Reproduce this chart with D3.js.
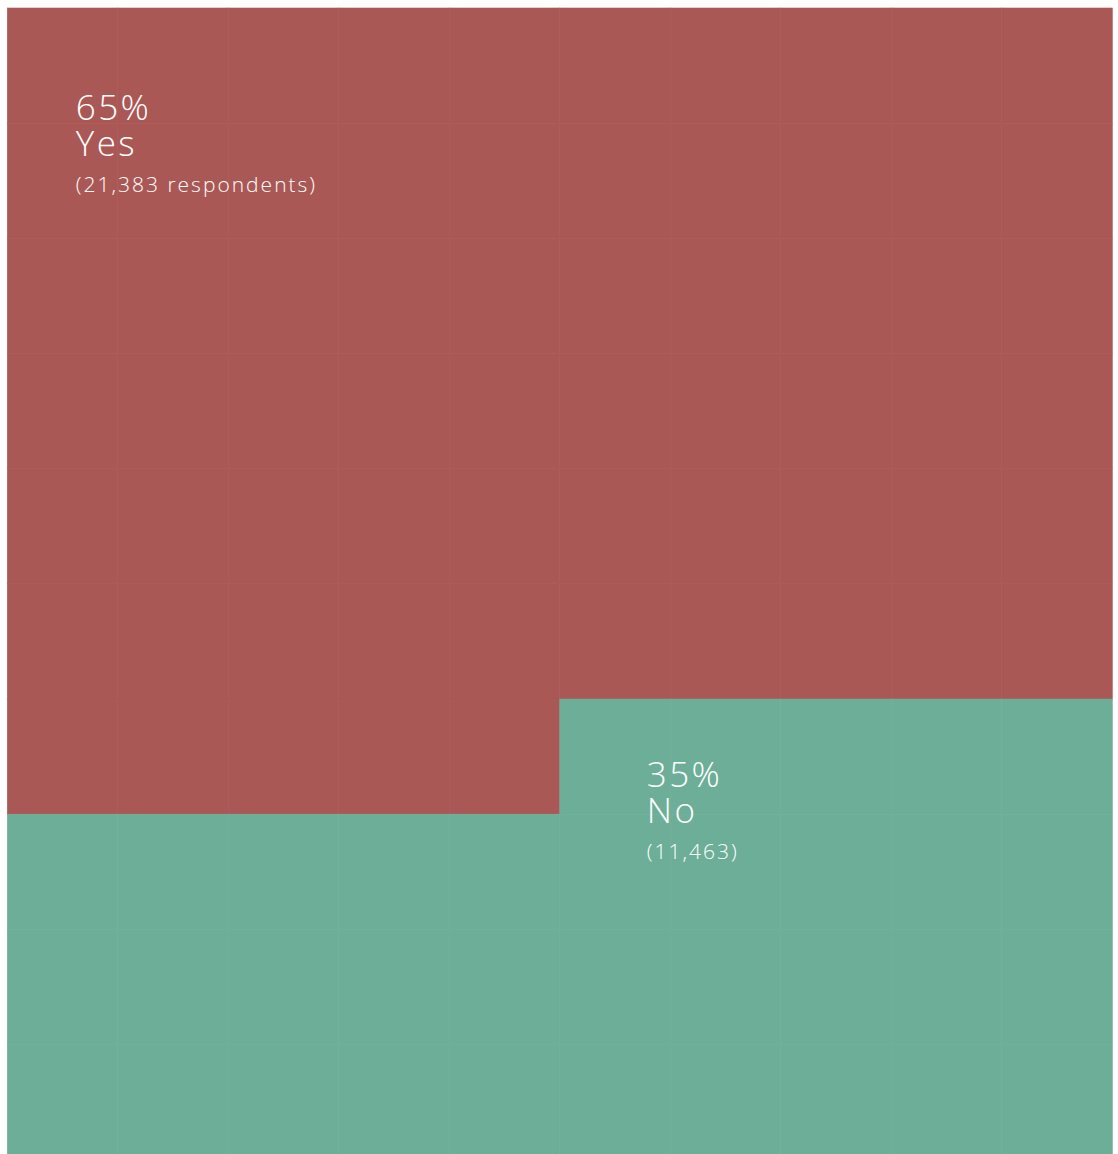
<!DOCTYPE html>
<html>
<head>
<meta charset="utf-8">
<script src="https://cdn.jsdelivr.net/npm/d3@7"></script>
<style>
  html, body { margin: 0; padding: 0; background: #ffffff; }
  svg { display: block; }
  text { font-family: "Open Sans", "Lato", sans-serif; fill: #ffffff; font-weight: 300; }
</style>
</head>
<body>
<svg id="chart" width="1118" height="1154"></svg>
<script>
// Survey answers, one waffle cell per percentage point
const categories = ["Yes", "No"];
const percents = [65, 35];
const respondents = [21383, 11463];
const countLabels = ["(21,383 respondents)", "(11,463)"];
const colors = ["#aa5855", "#6dae98"];

const gridCols = 10;
const gridRows = 10;

const svg = d3.select("#chart");

const x = d3.scaleLinear().domain([0, gridCols]).range([7.3, 1112.3]);
const y = d3.scaleLinear().domain([0, gridRows]).range([8, 8 + 1151.7]);

// Assign each cell a category, filled row by row from the top-left
const cells = [];
let idx = 0;
percents.forEach((p, ci) => {
  for (let k = 0; k < p; k++, idx++) {
    cells.push({ i: idx, row: Math.floor(idx / gridCols), col: idx % gridCols, cat: ci });
  }
});

svg.append("g")
  .selectAll("rect")
  .data(cells)
  .join("rect")
  .attr("x", d => x(d.col))
  .attr("y", d => y(d.row))
  .attr("width", d => x(d.col + 1) - x(d.col))
  .attr("height", d => y(d.row + 1) - y(d.row))
  .attr("fill", d => colors[d.cat])
  .attr("stroke", d => colors[d.cat])
  .attr("stroke-width", 0.6);

// Label anchors: top-left cell of each category's block plus an inset
const labelAnchors = [
  { col: 0, row: 0, dx: 68.5, dy: 111.5 },
  { col: 5, row: 6, dx: 87, dy: 88 }
];

categories.forEach((c, ci) => {
  const a = labelAnchors[ci];
  const t = svg.append("text")
    .attr("transform", `translate(${x(a.col) + a.dx},${y(a.row) + a.dy})`);
  t.append("tspan")
    .attr("x", 0).attr("y", 0)
    .attr("font-size", 35)
    .attr("letter-spacing", 2.4)
    .text(percents[ci] + "%");
  t.append("tspan")
    .attr("x", 0).attr("y", 36)
    .attr("font-size", 35)
    .attr("letter-spacing", 2.4)
    .text(c);
  t.append("tspan")
    .attr("x", 0).attr("y", 72)
    .attr("font-size", 21)
    .attr("letter-spacing", 2)
    .text(countLabels[ci]);
});
</script>
</body>
</html>
